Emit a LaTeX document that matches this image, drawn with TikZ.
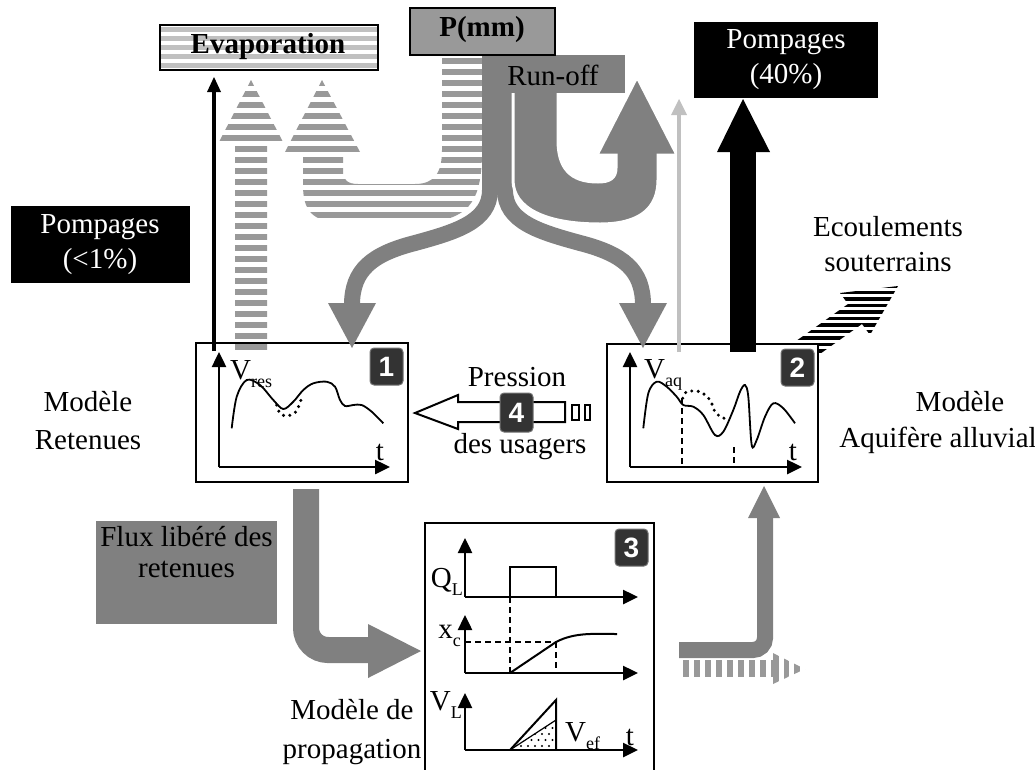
\documentclass[tikz,border=0pt]{standalone}
\usepackage{fontspec}
\setmainfont{Liberation Serif}
\newfontfamily\badgefont{Liberation Sans}
\usetikzlibrary{arrows.meta}
\definecolor{flowgray}{HTML}{808080}
\definecolor{stripegray}{HTML}{999999}
\definecolor{evapgray}{HTML}{C0C0C0}
\definecolor{pgray}{HTML}{999999}
\definecolor{lightarrow}{HTML}{C0C0C0}
\definecolor{badgefill}{HTML}{333333}
\newcommand\hstripes[7]{\foreach \i in {0,...,#4}{\fill[#7] (#1,{#3+\i*#5}) rectangle (#2,{#3+\i*#5+#6});}}
\newcommand\lsub[1]{\raisebox{-0.28em}{\fontsize{18}{18}\selectfont #1}}
\tikzset{
 txt/.style={font=\fontsize{29}{35}\selectfont, align=center, inner sep=0pt},
 btxt/.style={font=\bfseries\fontsize{29}{35}\selectfont, align=center, inner sep=0pt},
 boxline/.style={draw=black, line width=2pt, fill=white},
 axis/.style={line width=2.5pt, -{Triangle[length=15pt,width=14pt]}},
 curve/.style={line width=1.8pt},
 dotted curve/.style={line width=3.4pt, dash pattern=on 0pt off 6.5pt, line cap=round},
 dashline/.style={line width=2pt, dash pattern=on 6pt off 4pt},
 badge/.style={fill=badgefill, draw=black!55, line width=1pt, rounded corners=4pt, minimum width=33pt, minimum height=37pt, text=white, font=\badgefont\bfseries\fontsize{28}{28}\selectfont, inner sep=0pt},
}
\begin{document}
\begin{tikzpicture}[x=1pt,y=-1pt]
\clip (0,0) rectangle (1035,769);
\fill[white] (0,0) rectangle (1035,769);

% ---------- Evaporation box
\begin{scope}
\clip (160,25) rectangle (378,70);
\hstripes{160}{378}{27}{4}{9}{5}{evapgray}
\end{scope}
\draw[line width=2pt] (160,25) rectangle (378,70);
\node[btxt] (evap) at (268,47) {Evaporation};

% ---------- Ecoulements striped arrow (below box 2)
\begin{scope}
\clip (775,356) -- (848,304) -- (840,293) -- (898,286) -- (870,335) -- (862,324) -- (789,376) -- cycle;
\hstripes{760}{910}{284}{16}{6.5}{3.6}{black}
\end{scope}

% ---------- boxes
\filldraw[boxline] (196,343) rectangle (408,482);
\coordinate (m1) at (302,412);
\filldraw[boxline] (607,344) rectangle (818,482);
\coordinate (m2) at (712,413);
\filldraw[boxline] (425,523) rectangle (654,790);

% ---------- striped evaporation flows
\begin{scope}
\clip (442,57) -- (482,57) -- (482,150) .. controls (482,197) and (472,218) .. (430,222) -- (340,222) .. controls (312,222) and (303,210) .. (303,185) -- (303,152) -- (285,152) -- (322,80) -- (360,152) -- (343,152) -- (343,172) .. controls (343,180) and (348,184) .. (358,184) -- (415,184) .. controls (435,184) and (442,172) .. (442,150) -- cycle
 (235,350) -- (235,142) -- (219,142) -- (251,80) -- (283,142) -- (267,142) -- (267,350) -- cycle;
\hstripes{200}{500}{58}{28}{11}{6}{stripegray}
\end{scope}

% ---------- solid down branches
\draw[flowgray, line width=16pt] (490,57) -- (490,190) .. controls (490,222) and (455,232) .. (415,243) .. controls (372,254) and (352,270) .. (352,305);
\draw[flowgray, line width=16pt] (505,57) -- (505,190) .. controls (505,222) and (540,232) .. (580,243) .. controls (623,254) and (643,270) .. (643,305);
\fill[flowgray] (328,303) -- (376,303) -- (352,348) -- cycle;
\fill[flowgray] (619,303) -- (667,303) -- (643,348) -- cycle;

% ---------- run-off U arrow
\filldraw[fill=flowgray, draw=white, line width=3pt] (513,88) -- (513,180) .. controls (513,208) and (545,224) .. (600,224) .. controls (640,224) and (658,208) .. (658,180) -- (658,155) -- (677,155) -- (637,77) -- (597,155) -- (616,155) -- (616,168) .. controls (616,178) and (610,182) .. (598,182) .. controls (570,182) and (558,168) .. (558,140) -- (558,88) -- cycle;

% ---------- Run-off and P(mm) boxes
\fill[flowgray] (482,55) rectangle (625,93);
\node[txt] (runoff) at (553,75) {Run-off};
\filldraw[fill=pgray, line width=2pt] (410,8) rectangle (555,55);
\node[btxt] (pmm) at (482,30) {P(mm)};

% ---------- pumping boxes
\fill[black] (694,22) rectangle (878,98);
\node[txt, text=white] (pomp40) at (786,60) {Pompages\\(40\%)};
\fill[black] (11,206) rectangle (190,283);
\node[txt, text=white] (pomp1) at (100,245) {Pompages\\(<1\%)};

% ---------- vertical arrows
\draw[line width=4.5pt] (214,351) -- (214,90);
\fill[black] (207,92) -- (221,92) -- (214,77) -- cycle;
\draw[lightarrow, line width=4pt] (679,352) -- (679,112);
\fill[lightarrow] (671,115) -- (687,115) -- (679,99) -- cycle;
\fill[black] (730,152) rectangle (756,352);
\fill[black] (717,152) -- (770,152) -- (743,99) -- cycle;

% ---------- texts
\node[txt] (ecoul) at (888,244) {Ecoulements\\souterrains};
\node[txt, font=\fontsize{29}{38}\selectfont] (modret) at (88,421) {Modèle\\Retenues};
\node[txt] (modaq1) at (960,402) {Modèle};
\node[txt] (modaq2) at (938,440) {Aquifère alluvial};
\node[txt] (press) at (517,377) {Pression};
\node[txt] (usag) at (520,447) {des usagers};
\node[txt, font=\fontsize{29}{39}\selectfont] (modprop) at (352,732) {Modèle de\\propagation};

% ---------- Box 1 content
\draw[axis] (219,467) -- (219,352);
\draw[axis] (219,467) -- (390,467);
\draw[curve] plot[smooth, tension=0.55] coordinates {(231.7,428.3) (236.7,396.7) (246.7,380) (260,385) (273.3,400) (283.3,409) (293.3,401.7) (303.3,390) (313.3,383.3) (326.7,381.7) (335,386.7) (340,400) (345,406) (353.3,405) (361.7,405) (371.7,411.7) (383.3,423.3)};
\draw[dotted curve] plot[smooth] coordinates {(276.7,405) (280,413.3) (286.7,416) (295,412.7) (300,403.3) (301.7,396.7)};
\node[txt, anchor=west] (vres) at (230,374) {V\lsub{res}};
\node[txt] (t1) at (380,452) {t};
\node[badge] (b1) at (386.5,366.5) {1};

% ---------- Box 2 content
\draw[axis] (630,467) -- (630,352);
\draw[axis] (630,467) -- (802,467);
\draw[curve] plot[smooth, tension=0.55] coordinates {(643.3,428.3) (648.3,393.3) (656.7,381.7) (666.7,386.7) (676.7,396.7) (683.3,405) (693.3,406.7) (703.3,415) (715,435) (723.3,431.7) (733.3,410) (740,391.7) (745,385) (748.3,396.7) (751.7,445) (756.7,440) (765,416.7) (773.3,403.3) (783.3,408.3) (795,423.3)};
\draw[dotted curve] plot[smooth] coordinates {(682.7,398.3) (686.7,391.7) (700,391.7) (710,400) (715,411.7) (723.3,418.3) (728.3,415)};
\draw[dashline] (682,398) -- (682,467);
\draw[dashline] (734,447) -- (734,467);
\node[txt, anchor=west] (vaq) at (644,375) {V\lsub{aq}};
\node[txt] (t2) at (793,452) {t};
\node[badge] (b2) at (797.5,367.5) {2};

% ---------- Box 3 content
\draw[axis] (465,597) -- (465,538);
\draw[axis] (465,597) -- (638,597);
\draw[line width=2pt] (510,597) -- (510,567) -- (556,567) -- (556,597);
\draw[axis] (465,673) -- (465,615);
\draw[axis] (465,673) -- (638,673);
\draw[dashline] (510,597) -- (510,673);
\draw[dashline] (465,642) -- (556,642);
\draw[dashline] (556,642) -- (556,673);
\draw[line width=2pt] (510,673) -- (556,642) .. controls (575,632) and (595,634) .. (617,634);
\draw[axis] (465,750) -- (465,693);
\draw[axis] (465,750) -- (638,750);
\begin{scope}
\clip (510,750) -- (556,720) -- (556,750) -- cycle;
\foreach \i in {0,...,7}{\foreach \j in {0,...,5}{\fill ({514+\i*7+mod(\j,2)*3.5},{722+\j*6}) circle (1.1);}}
\end{scope}
\draw[line width=2pt] (510,750) -- (556,700) -- (556,750);
\draw[line width=1.2pt] (510,750) -- (556,720);
\node[txt, anchor=east] (ql) at (463,582) {Q\lsub{L}};
\node[txt, anchor=east] (xc) at (461,636) {x\lsub{c}};
\node[txt, anchor=east] (vl) at (462,705) {V\lsub{L}};
\node[txt, anchor=west] (vef) at (565,736) {V\lsub{ef}};
\node[txt] (t3) at (630,737) {t};
\node[badge] (b3) at (631.5,547.5) {3};

% ---------- Pression arrow
\filldraw[fill=white, line width=2pt] (415,413) -- (458,395) -- (458,402) -- (565,402) -- (565,422) -- (458,422) -- (458,429) -- cycle;
\draw[line width=1.5pt] (572,405) rectangle (579,420);
\draw[line width=1.5pt] (585,405) rectangle (590,420);
\node[badge, minimum height=39pt] (b4) at (516.5,412.5) {4};

% ---------- Flux libere
\fill[flowgray] (96,521) rectangle (277,624);
\node[txt, font=\fontsize{29}{31}\selectfont, anchor=north] (flux) at (186.5,526) {Flux libéré des\\retenues};
\draw[flowgray, line width=26pt, rounded corners=22pt] (306,489) -- (306,650) -- (372,650);
\fill[flowgray] (368,624) -- (421,651) -- (368,678) -- cycle;

% ---------- right L arrow and striped arrow
\draw[flowgray, line width=16pt, rounded corners=12pt] (679,650) -- (765,650) -- (765,516);
\fill[flowgray] (748,518) -- (764,486) -- (780,518) -- cycle;
\draw[stripegray, line width=17pt, dash pattern=on 6pt off 5pt] (683,668.5) -- (773,668.5);
\begin{scope}
\clip (773,653) -- (805,669) -- (773,684) -- cycle;
\foreach \i in {0,...,3}{\fill[stripegray] ({773+\i*10.5},650) rectangle ({778.5+\i*10.5},690);}
\end{scope}
\end{tikzpicture}
\end{document}
